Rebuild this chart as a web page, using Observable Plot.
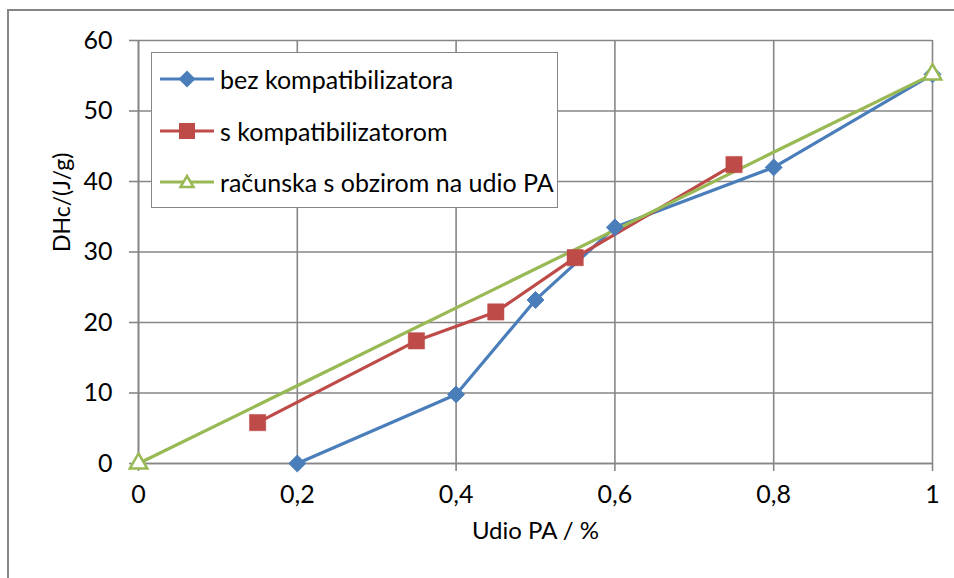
<!DOCTYPE html>
<html>
<head>
<meta charset="utf-8">
<script src="https://cdn.jsdelivr.net/npm/d3@7"></script>
<script src="https://cdn.jsdelivr.net/npm/@observablehq/plot@0.6"></script>
<style>
  html, body { margin: 0; padding: 0; background: #fff; }
  #wrap { position: relative; width: 954px; height: 578px; overflow: hidden; font-family: Lato, "Open Sans", sans-serif; }
  #border { position: absolute; left: 7px; top: 9px; width: 1000px; height: 700px; border: 2px solid #868686; box-sizing: border-box; }
  #legend { position: absolute; left: 151px; top: 52px; width: 407px; height: 156px; border: 1.5px solid #868686; background: #fff; box-sizing: border-box; }
  .item { position: absolute; left: 0; height: 30px; display: flex; align-items: center; font-size: 25px; color: #000; white-space: nowrap; }
  .item svg { margin-left: 8px; margin-right: 6px; flex: none; }
</style>
</head>
<body>
<div id="wrap">
  <div id="border"></div>
  <div id="chart"></div>
  <div id="legend"></div>
</div>
<script>
// Series data
const seriesNames = ["bez kompatibilizatora", "s kompatibilizatorom", "računska s obzirom na udio PA"];
const bezX = [0.2, 0.4, 0.5, 0.6, 0.8, 1.0];
const bezY = [0, 9.8, 23.2, 33.5, 42.0, 55.2];
const sX = [0.15, 0.35, 0.45, 0.55, 0.75];
const sY = [5.8, 17.4, 21.5, 29.2, 42.4];
const racX = [0, 1];
const racY = [0, 55.2];
const xTicks = [0, 0.2, 0.4, 0.6, 0.8, 1];
const yTicks = [0, 10, 20, 30, 40, 50, 60];
const xLabel = "Udio PA / %";
const yLabel = "DHc/(J/g)";

const colors = ["#4A7EBB", "#BE4B48", "#98B954"];

const toRows = (xs, ys, name) => xs.map((x, i) => ({x, y: ys[i], name}));
const bez = toRows(bezX, bezY, seriesNames[0]);
const s = toRows(sX, sY, seriesNames[1]);
const rac = toRows(racX, racY, seriesNames[2]);

const grid = "#868686";

const chart = Plot.plot({
  width: 954,
  height: 578,
  marginLeft: 138,
  marginRight: 22,
  marginTop: 40,
  marginBottom: 115,
  style: { fontFamily: "Lato, 'Open Sans', sans-serif", fontSize: "25px", color: "#000", background: "transparent", overflow: "visible" },
  x: { domain: [0, 1] },
  y: { domain: [0, 60] },
  marks: [
    Plot.gridX(xTicks, { stroke: grid, strokeOpacity: 1, strokeWidth: 1.6 }),
    Plot.gridY(yTicks, { stroke: grid, strokeOpacity: 1, strokeWidth: 1.6 }),
    Plot.axisX({ ticks: xTicks, tickSize: 8, tickPadding: 14, stroke: grid, strokeWidth: 1.6, tickFormat: d => String(d).replace(".", ","), label: null, fill: "#000", fontSize: 25 }),
    Plot.axisY({ ticks: yTicks, tickSize: 9, tickPadding: 17, stroke: grid, strokeWidth: 1.6, label: null, fill: "#000", fontSize: 25 }),
    Plot.ruleX([0], { stroke: grid, strokeWidth: 1.6 }),
    Plot.ruleY([0], { stroke: grid, strokeWidth: 1.6 }),
    Plot.line(bez, { x: "x", y: "y", stroke: colors[0], strokeWidth: 3.2 }),
    Plot.line(s, { x: "x", y: "y", stroke: colors[1], strokeWidth: 3.2 }),
    Plot.line(rac, { x: "x", y: "y", stroke: colors[2], strokeWidth: 3.2 }),
    Plot.dot(bez, { x: "x", y: "y", symbol: "diamond2", r: 7.6, fill: colors[0], stroke: colors[0], strokeWidth: 1 }),
    Plot.dot(s, { x: "x", y: "y", symbol: "square", r: 9.2, fill: colors[1], stroke: colors[1], strokeWidth: 0.5 }),
    Plot.dot(rac, { x: "x", y: "y", symbol: "triangle", r: 6.5, fill: "#fff", stroke: colors[2], strokeWidth: 2.5 }),
    Plot.text([yLabel], { frameAnchor: "left", dx: -76, rotate: -90, fontSize: 23, fill: "#000" }),
    Plot.text([xLabel], { frameAnchor: "bottom", dy: 75, fontSize: 24, fill: "#000" })
  ]
});
document.getElementById("chart").appendChild(chart);

// Legend
const legend = document.getElementById("legend");
const symbolPaths = [
  '<path d="M27,0.5 L35.5,9 L27,17.5 L18.5,9 Z" fill="' + colors[0] + '"/>',
  '<rect x="19" y="1" width="16" height="16" fill="' + colors[1] + '"/>',
  '<path d="M27,3 L33.5,14 L20.5,14 Z" fill="#fff" stroke="' + colors[2] + '" stroke-width="2.5"/>'
];
const rowCenters = [79, 131, 182];
seriesNames.forEach((name, i) => {
  const div = document.createElement("div");
  div.className = "item";
  div.style.top = (rowCenters[i] - 52 - 1.5 - 15) + "px";
  div.innerHTML = '<svg width="54" height="18" viewBox="0 0 54 18"><line x1="0" y1="9" x2="54" y2="9" stroke="' + colors[i] + '" stroke-width="3.2"/>' + symbolPaths[i] + '</svg><span>' + name + '</span>';
  legend.appendChild(div);
});
</script>
</body>
</html>
